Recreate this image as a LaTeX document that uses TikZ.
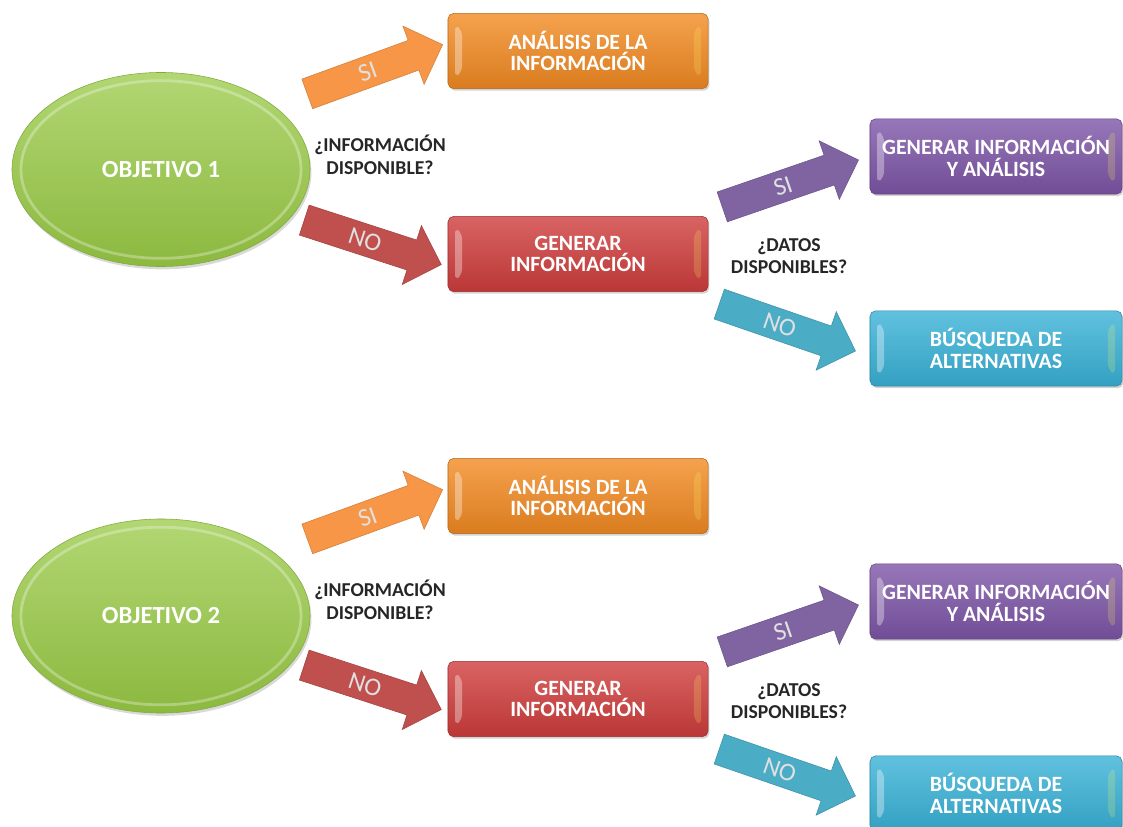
\documentclass[tikz,border=0pt]{standalone}
\usepackage{fontspec}
\setmainfont{Carlito}
\usetikzlibrary{shapes.geometric,shapes.arrows,shadows}

\definecolor{verde}{HTML}{98C945}
\definecolor{naranja}{HTML}{F79646}
\definecolor{rojo}{HTML}{C0504D}
\definecolor{morado}{HTML}{8064A2}
\definecolor{celeste}{HTML}{4BACC6}
\definecolor{cajanaranja}{HTML}{F28A22}
\definecolor{cajarojo}{HTML}{CF3D3C}
\definecolor{cajamorado}{HTML}{7D55A7}
\definecolor{cajaceleste}{HTML}{39B2D7}

\begin{document}
\begin{tikzpicture}[x=0.025cm,y=-0.025cm]
\tikzstyle{objetivo}=[ellipse, minimum width=7.45cm, minimum height=4.85cm, top color=verde!75!white, bottom color=verde!92!black, draw=verde!85!black, text=white, font=\bfseries\fontsize{17.5}{19}\selectfont, drop shadow={opacity=0.3,shadow xshift=1pt,shadow yshift=-2pt},
  path picture={\draw[white,opacity=0.3,line width=2pt] (path picture bounding box.center) ellipse [x radius=3.5cm, y radius=2.22cm];}]
\tikzstyle{caja}=[rectangle, rounded corners=4pt, minimum width=6.5cm, minimum height=1.88cm, align=center, text=white, font=\bfseries\fontsize{15.5}{15.5}\selectfont, drop shadow={opacity=0.35,shadow xshift=1pt,shadow yshift=-1.5pt},
  path picture={\fill[white,opacity=0.35] ([xshift=5pt,yshift=-8pt]path picture bounding box.north west) -- ([xshift=10pt,yshift=-12pt]path picture bounding box.north west) -- ([xshift=10pt,yshift=12pt]path picture bounding box.south west) -- ([xshift=5pt,yshift=8pt]path picture bounding box.south west) -- cycle;
    \fill[yellow!60!white,opacity=0.2] ([xshift=-5pt,yshift=-8pt]path picture bounding box.north east) -- ([xshift=-10pt,yshift=-12pt]path picture bounding box.north east) -- ([xshift=-10pt,yshift=12pt]path picture bounding box.south east) -- ([xshift=-5pt,yshift=8pt]path picture bounding box.south east) -- cycle;}]
\tikzset{colorcaja/.style={top color=#1!80!white, bottom color=#1!90!black, draw=#1!75!black}}
\tikzstyle{flecha}=[single arrow, anchor=tail, single arrow head extend=0.38cm, minimum height=3.6cm, inner xsep=4pt, inner ysep=5pt, text height=12pt, text depth=0pt, text=white!88!black, font=\fontsize{18}{18}\selectfont]
\tikzset{colorflecha/.style={fill=#1, draw=#1!85!black}}
\tikzstyle{pregunta}=[align=center, text=black!85, font=\bfseries\fontsize{14}{16}\selectfont]

\useasboundingbox (0,0) rectangle (1123,827);
\clip (0,0) rectangle (1123,827);

% objetivo 1
\node[objetivo] (obj1) at (161,169.5) {OBJETIVO 1};
\node[caja, colorcaja=cajanaranja] (ana1) at (578,51) {ANÁLISIS DE LA\\INFORMACIÓN};
\node[caja, colorcaja=cajarojo] (gen1) at (578,254) {GENERAR\\INFORMACIÓN};
\node[caja, colorcaja=cajamorado, minimum width=6.3cm] (gya1) at (996,156.5) {GENERAR INFORMACIÓN\\Y ANÁLISIS};
\node[caja, colorcaja=cajaceleste, minimum width=6.3cm] (bus1) at (996,348.5) {BÚSQUEDA DE\\ALTERNATIVAS};
\node[flecha, colorflecha=naranja, rotate=20] (si1) at (307,94) {SI};
\node[flecha, colorflecha=rojo, rotate=-18] (no1) at (304,220) {NO};
\node[flecha, colorflecha=morado, rotate=19] (sidat1) at (722,207) {SI};
\node[flecha, colorflecha=celeste, rotate=-19] (nodat1) at (719,304) {NO};
\node[pregunta] (info1) at (380,155) {¿INFORMACIÓN\\DISPONIBLE?};
\node[pregunta] (dat1) at (789,256) {¿DATOS\\DISPONIBLES?};

% objetivo 2
\node[objetivo] (obj2) at (161,616) {OBJETIVO 2};
\node[caja, colorcaja=cajanaranja] (ana2) at (578,496) {ANÁLISIS DE LA\\INFORMACIÓN};
\node[caja, colorcaja=cajarojo] (gen2) at (578,699) {GENERAR\\INFORMACIÓN};
\node[caja, colorcaja=cajamorado, minimum width=6.3cm] (gya2) at (996,601.5) {GENERAR INFORMACIÓN\\Y ANÁLISIS};
\node[caja, colorcaja=cajaceleste, minimum width=6.3cm] (bus2) at (996,793.5) {BÚSQUEDA DE\\ALTERNATIVAS};
\node[flecha, colorflecha=naranja, rotate=20] (si2) at (307,539) {SI};
\node[flecha, colorflecha=rojo, rotate=-18] (no2) at (304,665) {NO};
\node[flecha, colorflecha=morado, rotate=19] (sidat2) at (722,652) {SI};
\node[flecha, colorflecha=celeste, rotate=-19] (nodat2) at (719,749) {NO};
\node[pregunta] (info2) at (380,600) {¿INFORMACIÓN\\DISPONIBLE?};
\node[pregunta] (dat2) at (789,701) {¿DATOS\\DISPONIBLES?};
\end{tikzpicture}
\end{document}
